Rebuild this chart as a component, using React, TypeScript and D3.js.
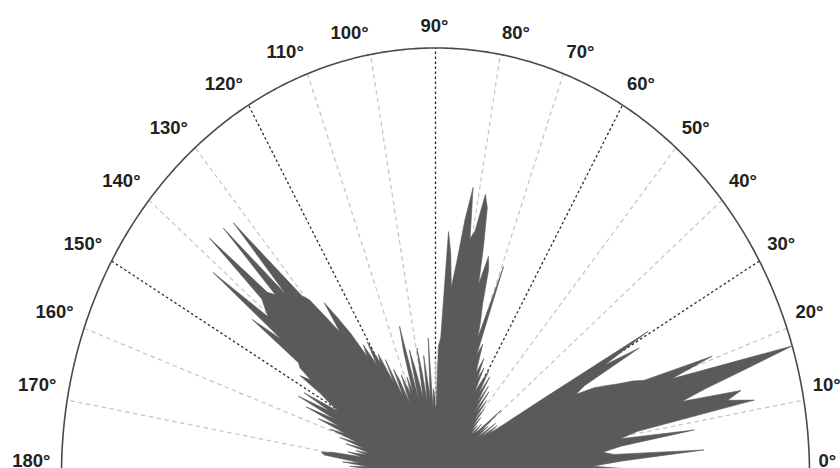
import React from "react";
import * as d3 from "d3";

// Rose histogram: 1° bins from 0° to 180°, values normalised to the outer arc
const binAngles: number[] = d3.range(0, 180, 1);
const binValues: number[] = [
  0.45, 0.5, 0.42, 0.5, 0.72, 0.48, 0.45, 0.5, 0.7, 0.5,
  0.55, 0.87, 0.8, 0.84, 0.68, 0.75, 0.86, 1.0, 0.8, 0.67,
  0.79, 0.6, 0.57, 0.53, 0.5, 0.47, 0.42, 0.45, 0.62, 0.52,
  0.66, 0.35, 0.22, 0.17, 0.2, 0.15, 0.2, 0.14, 0.18, 0.15,
  0.23, 0.16, 0.14, 0.17, 0.13, 0.16, 0.14, 0.18, 0.15, 0.2,
  0.16, 0.22, 0.18, 0.24, 0.18, 0.25, 0.2, 0.27, 0.22, 0.28,
  0.25, 0.22, 0.28, 0.25, 0.3, 0.26, 0.29, 0.33, 0.3, 0.52,
  0.34, 0.38, 0.42, 0.5, 0.53, 0.46, 0.55, 0.64, 0.67, 0.58,
  0.56, 0.68, 0.6, 0.5, 0.44, 0.52, 0.57, 0.32, 0.3, 0.16,
  0.18, 0.2, 0.16, 0.32, 0.18, 0.22, 0.28, 0.17, 0.24, 0.3,
  0.18, 0.22, 0.26, 0.3, 0.18, 0.36, 0.3, 0.2, 0.24, 0.2,
  0.22, 0.25, 0.18, 0.24, 0.27, 0.2, 0.3, 0.24, 0.32, 0.3,
  0.36, 0.3, 0.36, 0.33, 0.4, 0.45, 0.5, 0.42, 0.47, 0.53,
  0.55, 0.65, 0.8, 0.58, 0.81, 0.6, 0.62, 0.82, 0.62, 0.6,
  0.58, 0.76, 0.52, 0.61, 0.45, 0.44, 0.4, 0.43, 0.36, 0.33,
  0.3, 0.4, 0.32, 0.41, 0.3, 0.38, 0.28, 0.34, 0.26, 0.3,
  0.22, 0.27, 0.2, 0.25, 0.18, 0.22, 0.19, 0.24, 0.2, 0.28,
  0.31, 0.3, 0.2, 0.25, 0.18, 0.23, 0.17, 0.2, 0.17, 0.2,
];
const binWidth = 1;

// light grey bin drawn at 90°
const lightBin = { start: 89.5, end: 90.2, inner: 0.16, outer: 0.265 };

const tickAngles: number[] = [0, 10, 20, 30, 40, 50, 60, 70, 80, 90, 100, 110, 120, 130, 140, 150, 160, 170, 180];
const tickLabels: string[] = tickAngles.map((a) => `${a}°`);

const W = 840;
const H = 468;
const CX = 435.5;
const CY = 474;
const RX = 374;
const RY = 426;

const aScale = d3.scaleLinear().domain([0, 180]).range([0, Math.PI]);
const rScale = d3.scaleLinear().domain([0, 1]).range([0, 1]);

function pt(deg: number, r: number): [number, number] {
  const a = aScale(deg);
  const k = rScale(r);
  return [CX + RX * k * Math.cos(a), CY - RY * k * Math.sin(a)];
}

const line = d3.line<[number, number]>();

function outlinePath(): string {
  const pts: [number, number][] = [pt(0, 0), pt(0, binValues[0])];
  binAngles.forEach((a, i) => {
    pts.push(pt(a + binWidth / 2, binValues[i]));
  });
  pts.push(pt(180, binValues[binValues.length - 1]), pt(180, 0));
  return (line(pts) || "") + "Z";
}

function sectorPath(s: number, e: number, r0: number, r1: number): string {
  const pts: [number, number][] = [pt(s, r0), pt(s, r1), pt(e, r1), pt(e, r0)];
  return (line(pts) || "") + "Z";
}

export default function App() {
  const arcPts: [number, number][] = d3.range(0, 180.01, 0.5).map((d) => pt(d, 1));
  return (
    <svg
      width={W}
      height={H}
      viewBox={`0 0 ${W} ${H}`}
      style={{ position: "fixed", left: 0, top: 0, background: "#fff" }}
    >
      <rect x={0} y={0} width={W} height={H} fill="#fff" />
      {tickAngles.map((a) => {
        const [x2, y2] = pt(a, 1);
        const dark = a % 30 === 0;
        return (
          <line
            key={"s" + a}
            x1={CX}
            y1={CY}
            x2={x2}
            y2={y2}
            stroke={dark ? "#2a2a2a" : "#c4c4c4"}
            strokeWidth={dark ? 1.3 : 1.2}
            strokeDasharray={dark ? "2.5,2.5" : "4.5,3.5"}
          />
        );
      })}
      <path d={outlinePath()} fill="#5a5a5a" stroke="#5a5a5a" strokeWidth={0.6} strokeLinejoin="miter" />
      <path d={sectorPath(lightBin.start, lightBin.end, lightBin.inner, lightBin.outer)} fill="#c2c2c2" />
      <path d={line(arcPts) || ""} fill="none" stroke="#4a4a4a" strokeWidth={1.6} />
      {tickAngles.map((a, i) => {
        const rad = aScale(a);
        const c = Math.cos(rad);
        const s = Math.sin(rad);
        let x = CX - 1;
        let anchor: "start" | "end" | "middle" = "middle";
        if (a < 90) {
          x = CX + 383 * c;
          anchor = "start";
        } else if (a > 90) {
          x = CX + 385 * c;
          anchor = "end";
        }
        const y = 460 - 435 * s + 7;
        return (
          <text
            key={"t" + a}
            x={x}
            y={y}
            textAnchor={anchor}
            fontFamily="'Liberation Sans', Arial, sans-serif"
            fontSize={18.5}
            fontWeight="bold"
            fill="#222"
          >
            {tickLabels[i]}
          </text>
        );
      })}
    </svg>
  );
}
